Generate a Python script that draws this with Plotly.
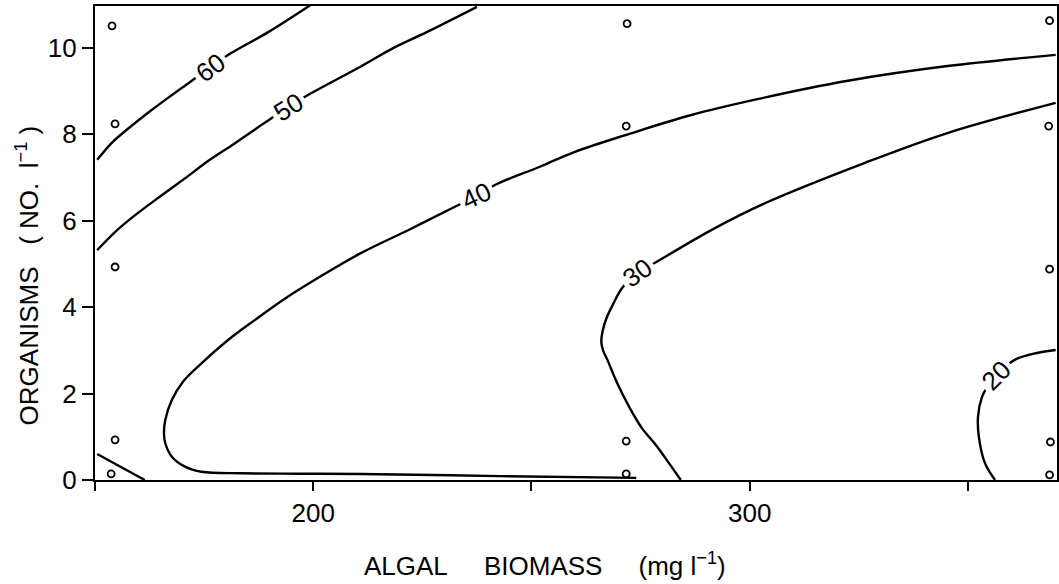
import plotly.graph_objects as go

# ---- contour lines (x: algal biomass mg/l, y: organisms no./l) ----
c60_x = [150.5, 153.9, 157.7, 162.3, 166.8, 171.4, 176.2, 181.2, 189.6, 199.5]
c60_y = [7.41, 7.81, 8.14, 8.51, 8.85, 9.18, 9.54, 9.88, 10.36, 11.0]

c50_x = [150.5, 154.7, 159.2, 164.9, 170.6, 176.3, 182.0, 188.8, 194.2, 199.5, 210.9, 218.4, 226.1, 237.5]
c50_y = [5.32, 5.75, 6.13, 6.56, 6.98, 7.41, 7.79, 8.26, 8.63, 8.95, 9.57, 10.0, 10.37, 10.95]

c40_x = [274.0, 242.8, 210.9, 197.2, 183.5, 174.4, 170.6, 167.6, 166.1, 165.8, 166.1, 167.6,
         170.2, 174.4, 180.5, 186.6, 193.4, 201.8, 210.9, 222.3, 232.0, 237.3, 242.1, 251.9,
         259.8, 272.4, 286.0, 302.0, 322.5, 345.3, 370.1]
c40_y = [0.05, 0.09, 0.14, 0.146, 0.155, 0.19, 0.31, 0.54, 0.85, 1.08, 1.39, 1.85,
         2.28, 2.70, 3.24, 3.70, 4.19, 4.72, 5.25, 5.81, 6.30, 6.57, 6.85, 7.25,
         7.59, 8.01, 8.43, 8.82, 9.24, 9.58, 9.84]

c30_x = [284.2, 281.5, 278.5, 275.3, 272.4, 269.6, 267.4, 266.4, 266.0, 266.3, 267.2,
         268.6, 270.8, 274.4, 278.7, 291.3, 303.6, 326.4, 345.3, 370.1]
c30_y = [0.0, 0.39, 0.81, 1.20, 1.69, 2.25, 2.78, 3.00, 3.20, 3.45, 3.75,
         4.05, 4.45, 4.79, 5.05, 5.79, 6.41, 7.34, 8.03, 8.73]

c20_x = [356.2, 353.9, 352.5, 352.3, 353.2, 354.4, 356.6, 360.7, 365.8, 370.1]
c20_y = [0.0, 0.39, 1.00, 1.46, 1.92, 2.15, 2.43, 2.78, 2.94, 3.01]

corner_x = [150.5, 161.4]
corner_y = [0.60, 0.0]

# contour labels
lab_text = ["60", "50", "40", "30", "20"]
lab_x = [176.4, 194.4, 237.3, 274.2, 356.6]
lab_y = [9.54, 8.63, 6.57, 4.79, 2.42]
lab_angle = [-36, -32, -25, -35, -45]

# sampled points
pts_x = [153.9, 154.6, 154.6, 154.6, 153.7,
         271.9, 271.7, 270.1, 271.7, 271.7,
         368.7, 368.5, 368.7, 368.9, 368.7]
pts_y = [10.51, 8.24, 4.93, 0.93, 0.14,
         10.56, 8.19, 4.86, 0.90, 0.14,
         10.63, 8.19, 4.88, 0.88, 0.12]

# axes
x_ticks = [200, 300]
y_ticks = [0, 2, 4, 6, 8, 10]

FONT = "Liberation Sans"
NB = "\u00a0"

fig = go.Figure()
for xs, ys in [(c60_x, c60_y), (c50_x, c50_y), (c40_x, c40_y), (c30_x, c30_y), (c20_x, c20_y)]:
    fig.add_trace(go.Scatter(x=xs, y=ys, mode="lines",
                             line=dict(color="black", width=2.4, shape="spline", smoothing=1.0),
                             showlegend=False, hoverinfo="skip"))
fig.add_trace(go.Scatter(x=corner_x, y=corner_y, mode="lines", line=dict(color="black", width=2.4),
                         showlegend=False, hoverinfo="skip"))
fig.add_trace(go.Scatter(x=pts_x, y=pts_y, mode="markers",
                         marker=dict(symbol="circle-open", size=7, color="black", line=dict(width=1.8, color="black")),
                         showlegend=False))

for t, x, y, a in zip(lab_text, lab_x, lab_y, lab_angle):
    fig.add_annotation(x=x, y=y, xref="x", yref="y", text=t, showarrow=False, textangle=a,
                       bgcolor="white", borderpad=3, font=dict(family=FONT, size=26, color="black"))

fig.add_annotation(xref="paper", yref="paper", x=0.468, y=-0.179,
                   text="ALGAL" + NB * 5 + "BIOMASS" + NB * 5 + "(mg" + NB + "l<sup>\u22121</sup>)",
                   showarrow=False, font=dict(family=FONT, size=26, color="black"), xanchor="center", yanchor="middle")
fig.add_annotation(xref="paper", yref="paper", x=-0.0705, y=0.432,
                   text="ORGANISMS" + NB * 3 + "(" + NB + "NO." + NB * 2 + "l<sup>\u22121</sup>" + NB + ")",
                   showarrow=False, textangle=-90, font=dict(family=FONT, size=26, color="black"),
                   xanchor="center", yanchor="middle")

fig.update_layout(
    width=1059, height=584,
    margin=dict(l=95, r=0, t=6, b=104),
    paper_bgcolor="white", plot_bgcolor="white",
    xaxis=dict(range=[150, 370.4], tickvals=x_ticks, ticks="outside", ticklen=9, tickwidth=2,
               tickcolor="black", showline=True, linecolor="black", linewidth=2.4, mirror=True, showgrid=False,
               zeroline=False, tickfont=dict(family=FONT, size=26, color="black"),
               minor=dict(ticks="outside", ticklen=9, tickwidth=2, tickcolor="black", tick0=150, dtick=50,
                          showgrid=False)),
    yaxis=dict(range=[0, 10.97], tickvals=y_ticks, ticks="outside", ticklen=11, tickwidth=2, tickcolor="black",
               showline=True, linecolor="black", linewidth=2.4, mirror=True, showgrid=False, zeroline=False,
               tickfont=dict(family=FONT, size=26, color="black")),
)

fig.write_html("out.html")
